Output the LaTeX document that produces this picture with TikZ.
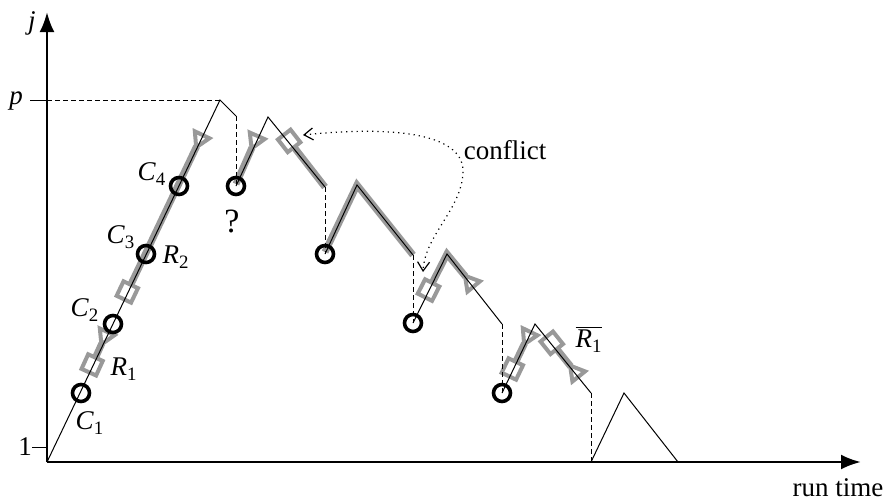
\documentclass[tikz,border=0pt]{standalone}
\usepackage{fontspec}
\setmainfont{Liberation Serif}
\usetikzlibrary{arrows.meta}
\newcommand{\idx}[2]{\textit{#1}\textsubscript{#2}}
\tikzset{
  band/.style={line width=3.5pt, black!40, yshift=1pt},
  marked/.style={band, {Square[open, length=10pt, width=10pt, line width=2pt]}-{Triangle[open, reversed, length=10pt, width=11pt, line width=2pt]}},
  boxed/.style={band, {Square[open, length=10pt, width=10pt, line width=2pt]}-},
  flagged/.style={band, -{Triangle[open, reversed, length=10pt, width=11pt, line width=2pt]}},
  restart/.style={circle, draw, line width=1.8pt, minimum size=8.5pt, inner sep=0pt},
  jump/.style={dash pattern=on 2.5pt off 1.5pt, line width=0.5pt},
}
\begin{document}
\begin{tikzpicture}[x=0.5pt, y=0.5pt, line width=0.5pt,
    every node/.style={font=\fontsize{13.5}{16}\selectfont}]
    \useasboundingbox (0,0) rectangle (888,500);

    % 1. Axes
    \coordinate (O) at (47,38);
    \coordinate (xe) at (861,38);
    \coordinate (ye) at (47,488);
    \draw[line width=1.4pt, -{Latex[length=10pt, width=7.5pt]}] (O) -- (xe);
    \draw[line width=1.4pt, -{Latex[length=10pt, width=7.5pt]}] (O) -- (ye);
    \node (lj) at (32,477) {\textit{j}};
    \node (ltime) at (838,12) {run time};
    \draw (32,53) coordinate (k1) -- (47,53);
    \draw (30,400) coordinate (kp) -- (47,400);
    \node (l1) at (25,53) {1};
    \node (lp) at (16,399) {\textit{p}};

    % 2. Vertices of the run
    \coordinate (t0) at (220,400); \coordinate (a1) at (236,384);
    \coordinate (t1) at (268,383); \coordinate (a2) at (325,313);
    \coordinate (t2) at (357,315); \coordinate (a3) at (413,245);
    \coordinate (t3) at (447,246); \coordinate (a4) at (502,176);
    \coordinate (t4) at (535,176); \coordinate (a5) at (591,107);
    \coordinate (b5) at (591,38);
    \coordinate (t5) at (624,107); \coordinate (a6) at (678,38);

    % 3. Grey parts
    \draw[marked] (88,124) -- (108,168);
    \draw[marked] (123,197) -- (203,365);
    \draw[flagged] (236,314) -- (258,364);
    \draw[boxed] (283,365) -- (a2);
    \draw[band] (325,246) -- (t2) -- (a3);
    \draw[marked] (424,199) -- (t3) -- (475,210);
    \draw[marked] (508,120) -- (531,168);
    \draw[marked] (545.5,163) -- (580,120);

    % 4. Restart points
    \node[restart] (c1) at (81,107) {};
    \node[restart] (c2) at (113,176) {};
    \node[restart] (c3) at (146,246) {};
    \node[restart] (c4) at (179,314) {};
    \node[restart] (c5) at (236,314) {};
    \node[restart] (c6) at (325,246) {};
    \node[restart] (c7) at (413,177) {};
    \node[restart] (c8) at (502,107) {};

    % 5. The run
    \draw[jump] (47,400) -- (t0);
    \draw (O) -- (t0) -- (a1);
    \draw[jump] (a1) -- (c5.center);
    \draw (c5.center) -- (t1) -- (a2);
    \draw[jump] (a2) -- (c6.center);
    \draw (c6.center) -- (t2) -- (a3);
    \draw[jump] (a3) -- (c7.center);
    \draw (c7.center) -- (t3) -- (a4);
    \draw[jump] (a4) -- (c8.center);
    \draw (c8.center) -- (t4) -- (a5);
    \draw[jump] (a5) -- (b5);
    \draw (b5) -- (t5) -- (a6);

    % 6. Labels
    \node (lc1) at (90,77) {\idx{C}{1}};
    \node (lc2) at (85,190) {\idx{C}{2}};
    \node (lc3) at (121,263) {\idx{C}{3}};
    \node (lc4) at (152,326) {\idx{C}{4}};
    \node (lr1) at (124,131) {\idx{R}{1}};
    \node (lr2) at (176,243) {\idx{R}{2}};
    \node[font=\fontsize{17}{20}\selectfont] (lq) at (232,279) {?};
    \node (lr1b) at (589,161) {$\overline{\mbox{\idx{R}{1}}}$};

    % 7. Conflict
    \node (lconf) at (505,350) {conflict};
    \coordinate (f1) at (303,365);
    \coordinate (f2) at (423,228);
    \draw[dotted, line width=0.6pt, {Straight Barb[length=4.5pt, width=6pt]}-{Straight Barb[length=4.5pt, width=6pt]}]
        (f1) .. controls (400,375) and (465,365) .. (463,327)
             .. controls (461,290) and (425,265) .. (f2);
\end{tikzpicture}
\end{document}
